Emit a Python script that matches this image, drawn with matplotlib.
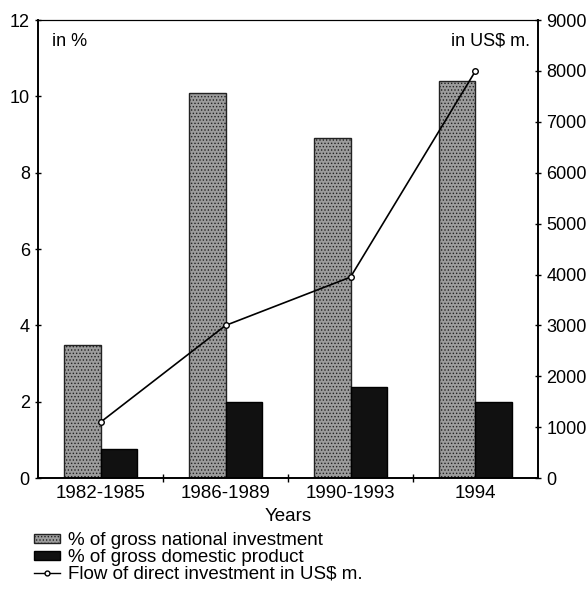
import matplotlib
matplotlib.use('Agg')
import matplotlib.pyplot as plt
import numpy as np
from matplotlib.patches import Patch
from matplotlib.lines import Line2D

plt.rcParams['font.family'] = ['Liberation Sans', 'DejaVu Sans']
plt.rcParams['hatch.linewidth'] = 0.6

# data
years = ['1982-1985', '1986-1989', '1990-1993', '1994']
pct_gni = [3.5, 10.1, 8.9, 10.4]     # % of gross national investment
pct_gdp = [0.75, 2.0, 2.4, 2.0]      # % of gross domestic product
fdi_flow = [1100, 3000, 3950, 8000]  # flow of direct investment, US$ m.

fig = plt.figure(figsize=(5.86, 5.91), dpi=100)
ax = fig.add_axes([0.065, 0.191, 0.853, 0.775])
ax2 = ax.twinx()

x = np.arange(len(years))
w = 0.29
ax.bar(x - w, pct_gni, w, align='edge', facecolor='#9c9c9c',
       edgecolor='#222222', hatch='.....', linewidth=1.0, zorder=2)
ax.bar(x, pct_gdp, w, align='edge', facecolor='#111111',
       edgecolor='#000000', linewidth=1.0, zorder=2)

ax2.plot(x, fdi_flow, color='black', linewidth=1.2, marker='o',
         markersize=4, markerfacecolor='white', markeredgecolor='black',
         markeredgewidth=1.0, zorder=3)

ax.set_xlim(-0.5, 3.5)
ax.set_ylim(0, 12)
ax.set_yticks(range(0, 13, 2))
ax2.set_ylim(0, 9000)
ax2.set_yticks(range(0, 9001, 1000))

ax.set_xticks(x)
ax.set_xticklabels(years)
ax.set_xticks([0.5, 1.5, 2.5], minor=True)
ax.tick_params(axis='x', which='major', length=0, labelsize=13.5, pad=5)
ax.tick_params(axis='x', which='minor', length=6, direction='inout', width=1)
ax.tick_params(axis='y', length=5, direction='inout', labelsize=13, width=1)
ax2.tick_params(axis='y', length=5, direction='inout', labelsize=13, width=1)

for a in (ax, ax2):
    for s in a.spines.values():
        s.set_linewidth(1.2)
ax.spines['top'].set_linewidth(0.8)
ax2.spines['top'].set_linewidth(0.8)

ax.text(0.028, 0.972, 'in %', transform=ax.transAxes, fontsize=13,
        ha='left', va='top')
ax.text(0.985, 0.972, 'in US$ m.', transform=ax.transAxes, fontsize=13,
        ha='right', va='top')
ax.set_xlabel('Years', fontsize=13.5, labelpad=4)

handles = [
    Patch(facecolor='#9c9c9c', edgecolor='#222222', hatch='.....'),
    Patch(facecolor='#111111', edgecolor='#000000'),
    Line2D([0], [0], color='black', linewidth=1.0, marker='o', markersize=3.5,
           markerfacecolor='white', markeredgecolor='black'),
]
labels = ['% of gross national investment',
          '% of gross domestic product',
          'Flow of direct investment in US$ m.']
fig.legend(handles, labels, loc='upper left', bbox_to_anchor=(0.058, 0.1),
           frameon=False, fontsize=13.5, handlelength=1.4, handleheight=0.35,
           handletextpad=0.4, labelspacing=0.0, borderpad=0, borderaxespad=0)

fig.savefig('out.png', dpi=100)
